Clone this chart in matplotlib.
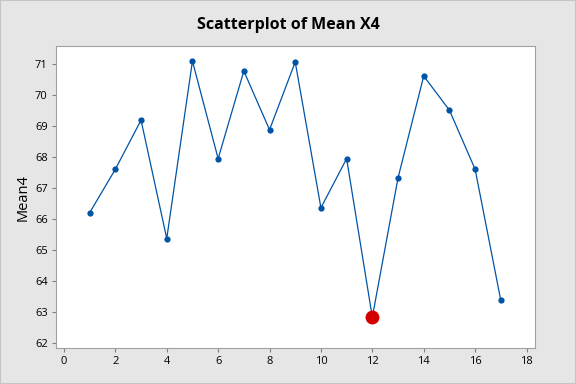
import matplotlib
matplotlib.use('Agg')
import matplotlib.pyplot as plt
from matplotlib.patches import Rectangle

plt.rcParams['font.family'] = ['Open Sans', 'DejaVu Sans']

# --- Data ---
obs = list(range(1, 18))
mean4 = [66.2, 67.6, 69.18, 65.37, 71.08, 67.94, 70.76, 68.87, 71.05,
         66.36, 67.94, 62.84, 67.32, 70.6, 69.5, 67.6, 63.38]
highlight_idx = 11  # observation 12

x_ticks = list(range(0, 19, 2))
y_ticks = list(range(62, 72))

BLUE = '#0054a6'
RED = '#d40000'

fig = plt.figure(figsize=(5.76, 3.84), dpi=100, facecolor='#e6e6e6')
ax = fig.add_axes([0.0972, 0.0938, 0.8316, 0.786])

ax.plot(obs, mean4, color=BLUE, linewidth=0.9, marker='o', markersize=4.5,
        markeredgewidth=0, zorder=2)
ax.plot(obs[highlight_idx], mean4[highlight_idx], marker='o', markersize=10,
        color=RED, markeredgewidth=0, linestyle='none', zorder=3)

ax.set_xlim(-0.31, 18.33)
ax.set_ylim(61.85, 71.56)
ax.set_xticks(x_ticks)
ax.set_yticks(y_ticks)
ax.tick_params(labelsize=8, length=3, color='#808080', pad=3)

for s in ax.spines.values():
    s.set_color('#a0a0a0')

ax.set_ylabel('Mean4', fontsize=10.5, labelpad=3)
fig.suptitle('Scatterplot of Mean X4', fontsize=11.5, fontweight='bold', y=0.955)

# thin frame round the whole figure
fig.patches.append(Rectangle((0, 0), 1, 1, transform=fig.transFigure,
                             fill=False, edgecolor='#c4c4c4', linewidth=1.5))

fig.savefig('out.png', dpi=100, facecolor=fig.get_facecolor())
